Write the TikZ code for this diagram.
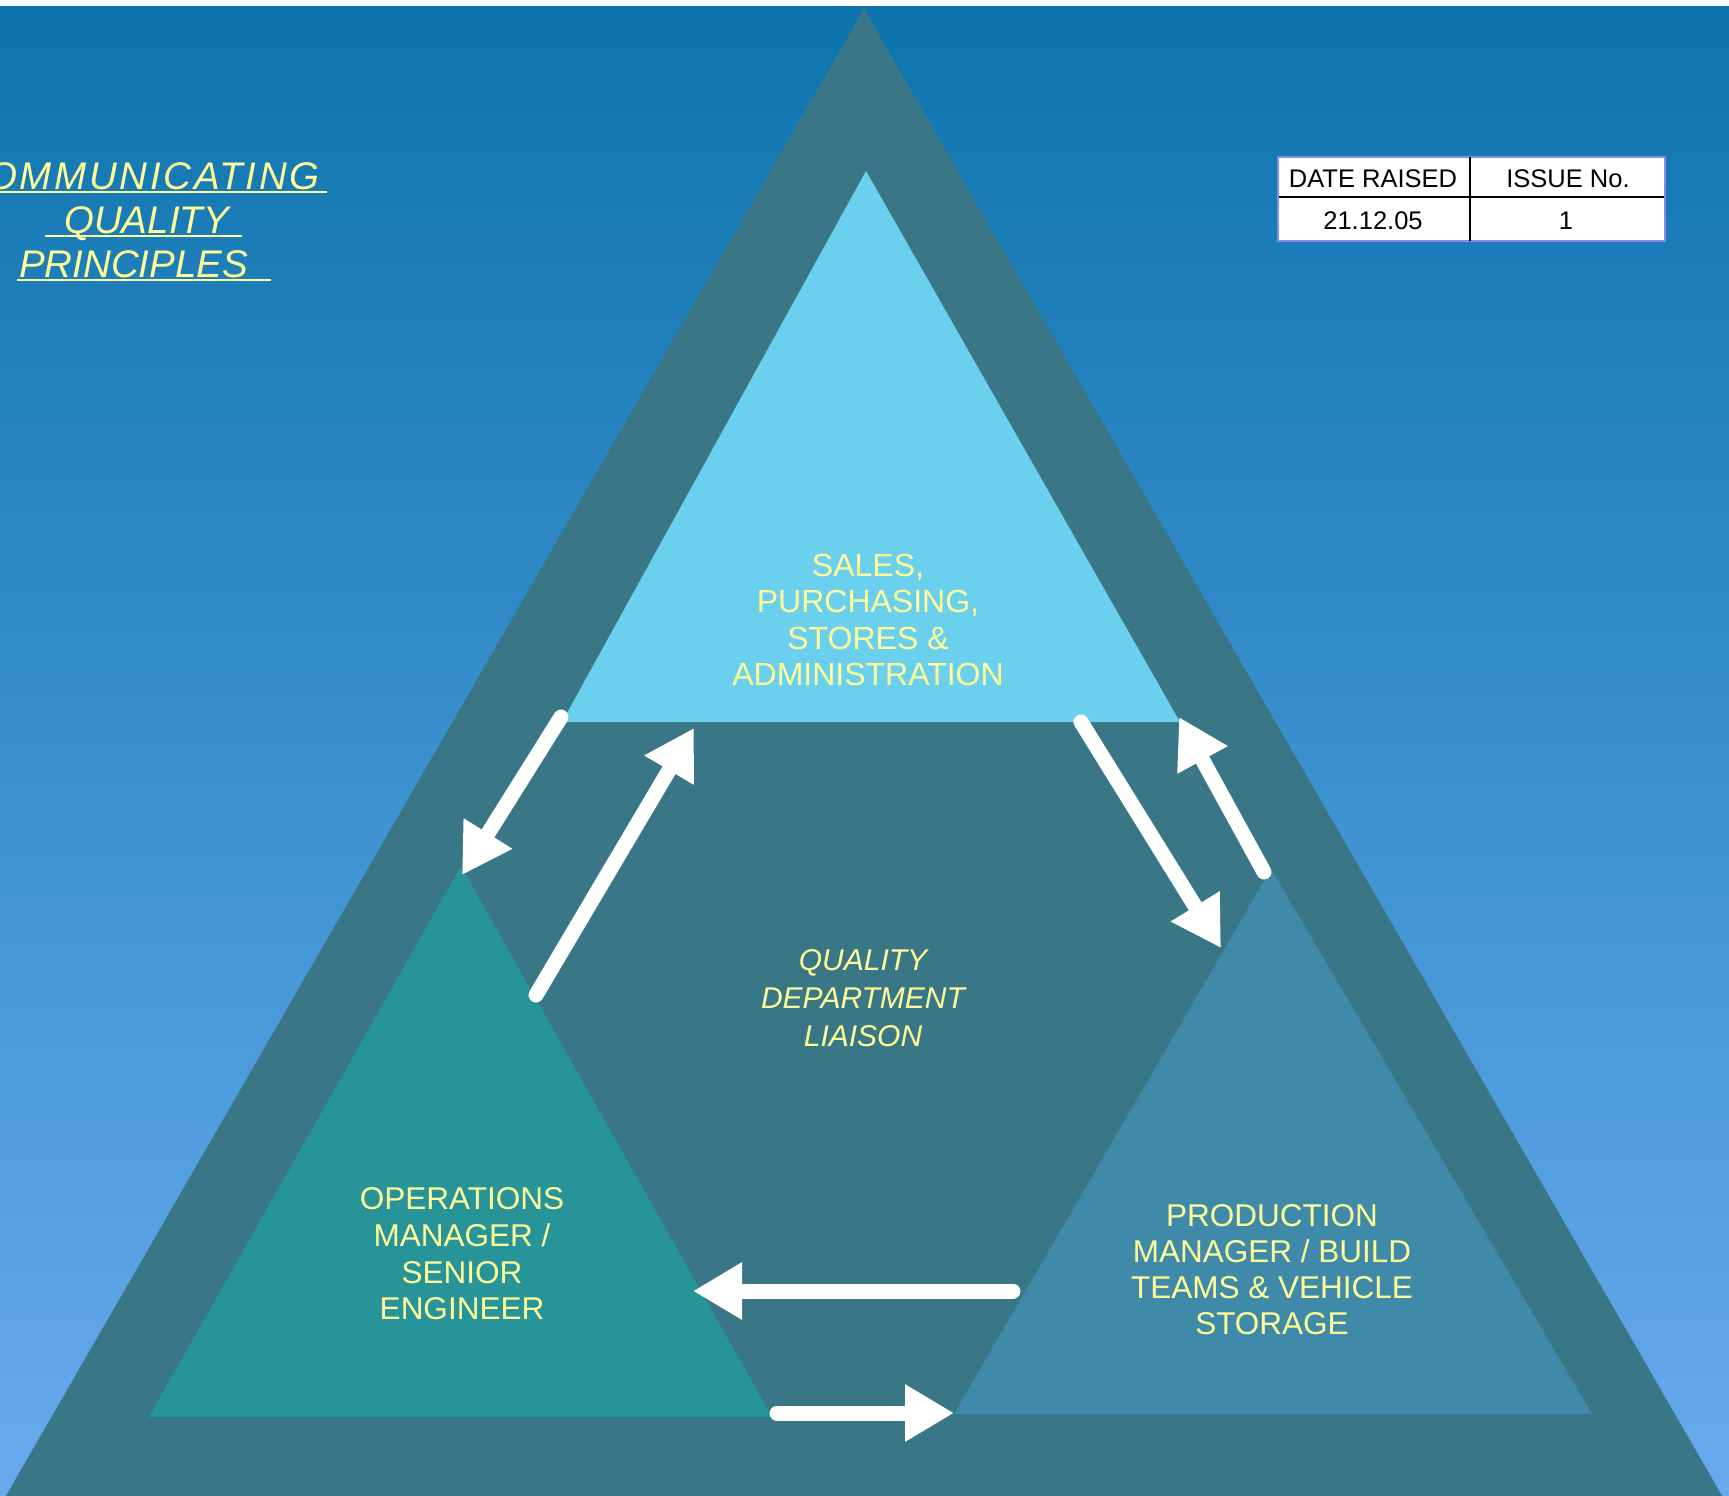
\documentclass[tikz,border=0pt]{standalone}
\usepackage{fontspec}
\setmainfont{Liberation Sans}
\usetikzlibrary{arrows.meta}
\definecolor{bgtop}{RGB}{13,116,173}
\definecolor{bgbot}{RGB}{103,171,238}
\definecolor{outertri}{RGB}{57,119,135}
\definecolor{toptri}{RGB}{106,208,238}
\definecolor{bltri}{RGB}{38,148,152}
\definecolor{brtri}{RGB}{62,138,168}
\definecolor{labeltxt}{RGB}{255,255,153}
\definecolor{tableborder}{RGB}{130,140,240}
\begin{document}
\begin{tikzpicture}[x=1pt,y=-1pt,
  lbl/.style={text=labeltxt, align=center, inner sep=0pt},
  titleline/.style={text=labeltxt, inner sep=0pt, font=\itshape\fontsize{38.5}{44}\selectfont},
  uline/.style={draw=labeltxt, line width=2pt},
  celltxt/.style={text=black, inner sep=0pt, anchor=base, font=\fontsize{25.5}{30}\selectfont},
  flow/.style={draw=white, line width=15pt, line cap=round, -{Triangle[length=49pt,width=54pt]}}
]
\useasboundingbox (0,0) rectangle (1729,1496);
\begin{scope}
  \clip (0,0) rectangle (1729,1496);
  \fill[white] (0,0) rectangle (1729,7);
  \shade[top color=bgtop, bottom color=bgbot] (0,7) rectangle (1729,1496);
  % outer triangle
  \coordinate (outerA) at (864,9);
  \coordinate (outerB) at (-8,1520);
  \coordinate (outerC) at (1736,1520);
  \fill[outertri] (outerA) -- (outerB) -- (outerC) -- cycle;
  % title (first line runs past the left edge, as in the original)
  \node[titleline, anchor=base east,
        font={\itshape\fontsize{38.5}{44}\selectfont\addfontfeature{LetterSpace=7}}]
        (title1) at (320,189) {COMMUNICATING};
  \draw[uline] (-40,191.5) -- (327,191.5);
\end{scope}

% inner triangles
\coordinate (topA) at (866,171);
\coordinate (topB) at (562,722);
\coordinate (topC) at (1180,722);
\fill[toptri] (topA) -- (topB) -- (topC) -- cycle;

\coordinate (blA) at (461,866);
\coordinate (blB) at (149,1417);
\coordinate (blC) at (772,1417);
\fill[bltri] (blA) -- (blB) -- (blC) -- cycle;

\coordinate (brA) at (1271,869);
\coordinate (brB) at (954,1414);
\coordinate (brC) at (1592,1414);
\fill[brtri] (brA) -- (brB) -- (brC) -- cycle;

% labels
\node[lbl, font=\fontsize{32}{36.5}\selectfont] (sales) at (868,620)
  {SALES,\\PURCHASING,\\STORES \&\\ADMINISTRATION};
\node[lbl, font=\itshape\fontsize{30}{38}\selectfont] (quality) at (863,998)
  {QUALITY\\DEPARTMENT\\LIAISON};
\node[lbl, font=\fontsize{31.5}{36.7}\selectfont] (ops) at (462,1254)
  {OPERATIONS\\MANAGER /\\SENIOR\\ENGINEER};
\node[lbl, font=\fontsize{31.5}{36}\selectfont] (prod) at (1272,1270)
  {PRODUCTION\\MANAGER / BUILD\\TEAMS \& VEHICLE\\STORAGE};

% title, lines 2 and 3
\node[titleline, anchor=base west] (title2) at (64,233) {QUALITY};
\node[titleline, anchor=base west] (title3) at (19,277) {PRINCIPLES};
\draw[uline] (45,235.5) -- (242,235.5);
\draw[uline] (17,279.5) -- (271,279.5);

% table
\draw[fill=white, draw=tableborder, line width=1.5pt] (1278,157) rectangle (1665,241);
\draw[black, line width=1.6pt] (1470,157) -- (1470,241);
\draw[black, line width=1.6pt] (1279,197) -- (1664,197);
\node[celltxt] (date) at (1373,187.3) {DATE RAISED};
\node[celltxt] (issue) at (1568,187.3) {ISSUE No.};
\node[celltxt] (dateval) at (1373,229.3) {21.12.05};
\node[celltxt] (issueval) at (1566,229.3) {1};

% arrow end points
\coordinate (a1s) at (561,717);
\coordinate (a1e) at (462,875);
\coordinate (a2s) at (536,995);
\coordinate (a2e) at (694,728);
\coordinate (a3s) at (1081,722);
\coordinate (a3e) at (1221,948);
\coordinate (a4s) at (1264,872);
\coordinate (a4e) at (1179,717);
\coordinate (a5s) at (1013,1291);
\coordinate (a5e) at (693,1291);
\coordinate (a6s) at (777,1413);
\coordinate (a6e) at (954,1413);

\draw[flow] (a1s) -- (a1e);
\draw[flow] (a2s) -- (a2e);
\draw[flow] (a3s) -- (a3e);
\draw[flow] (a4s) -- (a4e);
\draw[flow] (a5s) -- (a5e);
\draw[flow] (a6s) -- (a6e);
\end{tikzpicture}
\end{document}
